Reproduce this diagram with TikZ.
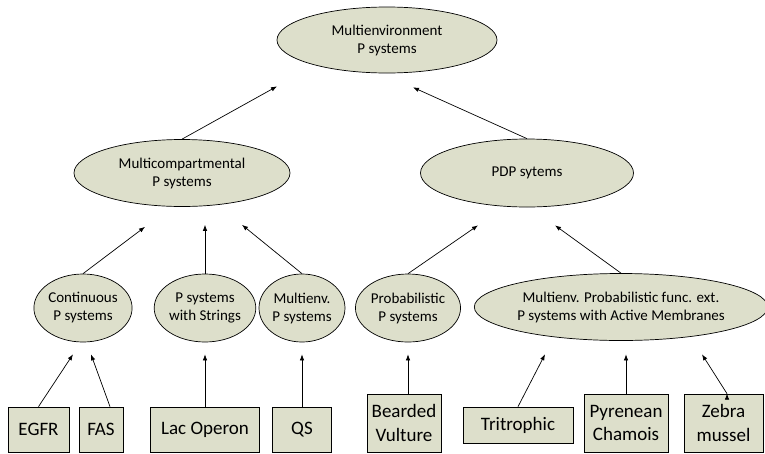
\documentclass[tikz,border=0pt]{standalone}
\usepackage{fontspec}
\setmainfont{Carlito}
\usepackage{tikz}
\usetikzlibrary{shapes.geometric,positioning,arrows.meta}
\definecolor{nodefill}{RGB}{221,223,203}

\begin{document}
\begin{tikzpicture}[
        on grid,
        every node/.style={draw, fill=nodefill, line width=0.7pt, inner sep=0pt, align=center},
        class/.style={ellipse, font=\fontsize{15}{18}\selectfont},
        bigclass/.style={class, minimum width=216pt, minimum height=67pt},
        smallclass/.style={class, minimum width=86pt, minimum height=68pt},
        model/.style={rectangle, font=\fontsize{19}{23.5}\selectfont, minimum height=45pt},
        arrow/.style={draw, line width=0.7pt, -{Latex[length=6pt,width=4.5pt]}}
    ]
    \useasboundingbox (0,0) rectangle (765pt,-453pt);

    % top level
    \node (Multienv) [bigclass, minimum width=220pt, minimum height=66pt] at (387pt,-40pt) {Multienvironment\\P systems};

    % second level
    \node (Multicomp) [bigclass, below left=133pt and 205pt of Multienv] {Multicompartmental\\P systems};
    \node (PDP) [bigclass, minimum width=213pt, minimum height=68pt, below right=133pt and 140pt of Multienv] {PDP sytems};

    % third level
    \node (Continuous) [smallclass, below left=135pt and 99pt of Multicomp] {Continuous\\P systems};
    \node (Strings) [smallclass, minimum width=82pt, below right=135pt and 23pt of Multicomp] {P systems\\with Strings};
    \node (MultienvP) [smallclass, below right=135pt and 120pt of Multicomp] {Multienv.\\P systems};
    \node (Probabilistic) [smallclass, minimum width=84pt, below left=135pt and 119pt of PDP] {Probabilistic\\P systems};
    \node (MPAM) [class, minimum width=274pt, minimum height=67pt, below right=134pt and 94pt of PDP] {Multienv. Probabilistic func. ext.\\P systems with Active Membranes};

    % models
    \node (EGFR) [model, minimum width=61pt, below left=121.5pt and 44.5pt of Continuous] {EGFR};
    \node (FAS) [model, minimum width=44pt, below right=121.5pt and 18pt of Continuous] {FAS};
    \node (Lac) [model, minimum width=109pt, below=121.5pt of Strings] {Lac Operon};
    \node (QS) [model, minimum width=59pt, below=121.5pt of MultienvP] {QS};
    \node (Vulture) [model, minimum width=74pt, minimum height=58pt, below left=115pt and 4pt of Probabilistic] {Bearded\\Vulture};
    \node (Tritrophic) [model, minimum width=110pt, minimum height=36pt, below left=118pt and 103pt of MPAM] {Tritrophic};
    \node (Chamois) [model, minimum width=84pt, minimum height=58pt, below right=116pt and 5pt of MPAM] {Pyrenean\\Chamois};
    \node (Mussel) [model, minimum width=79pt, minimum height=58pt, below right=116pt and 102.5pt of MPAM] {Zebra\\mussel};

    % arrow tips
    \coordinate (MultienvIn1) at ([xshift=-110pt,yshift=-13pt]Multienv.south);
    \coordinate (MultienvIn2) at ([xshift=26pt,yshift=-14pt]Multienv.south);
    \coordinate (MulticompIn1) at ([xshift=-37pt,yshift=-20pt]Multicomp.south);
    \coordinate (MulticompIn2) at ([yshift=-18pt]Multicomp.south -| Strings.north);
    \coordinate (MulticompIn3) at ([xshift=60pt,yshift=-18pt]Multicomp.south);
    \coordinate (PDPIn1) at ([xshift=-49pt,yshift=-18pt]PDP.south);
    \coordinate (PDPIn2) at ([xshift=28pt,yshift=-18pt]PDP.south);
    \coordinate (ContinuousIn1) at ([xshift=-10pt,yshift=-12pt]Continuous.south);
    \coordinate (ContinuousIn2) at ([xshift=8pt,yshift=-12pt]Continuous.south);
    \coordinate (StringsIn) at ([yshift=-12pt]Strings.south);
    \coordinate (MultienvPIn) at ([yshift=-12pt]MultienvP.south);
    \coordinate (ProbabilisticIn) at ([yshift=-12pt]Probabilistic.south);
    \coordinate (MPAMIn1) at ([xshift=-76pt,yshift=-13.5pt]MPAM.south);
    \coordinate (MPAMIn2) at ([xshift=5pt,yshift=-13.5pt]MPAM.south);
    \coordinate (MPAMIn3) at ([xshift=81pt,yshift=-13.5pt]MPAM.south);

    \path[arrow]
        (Multicomp.north) edge (MultienvIn1)
        (PDP.north) edge (MultienvIn2)
        (Continuous.north) edge (MulticompIn1)
        (Strings.north) edge (MulticompIn2)
        (MultienvP.north) edge (MulticompIn3)
        (Probabilistic.north) edge (PDPIn1)
        (MPAM.north) edge (PDPIn2)
        (EGFR.north) edge (ContinuousIn1)
        ([xshift=9pt]FAS.north) edge (ContinuousIn2)
        (Lac.north) edge (StringsIn)
        (QS.north) edge (MultienvPIn)
        ([xshift=4pt]Vulture.north) edge (ProbabilisticIn)
        (Tritrophic.north) edge (MPAMIn1)
        (Chamois.north) edge (MPAMIn2)
        ([xshift=3.5pt]Mussel.north) edge (MPAMIn3);
\end{tikzpicture}
\end{document}
